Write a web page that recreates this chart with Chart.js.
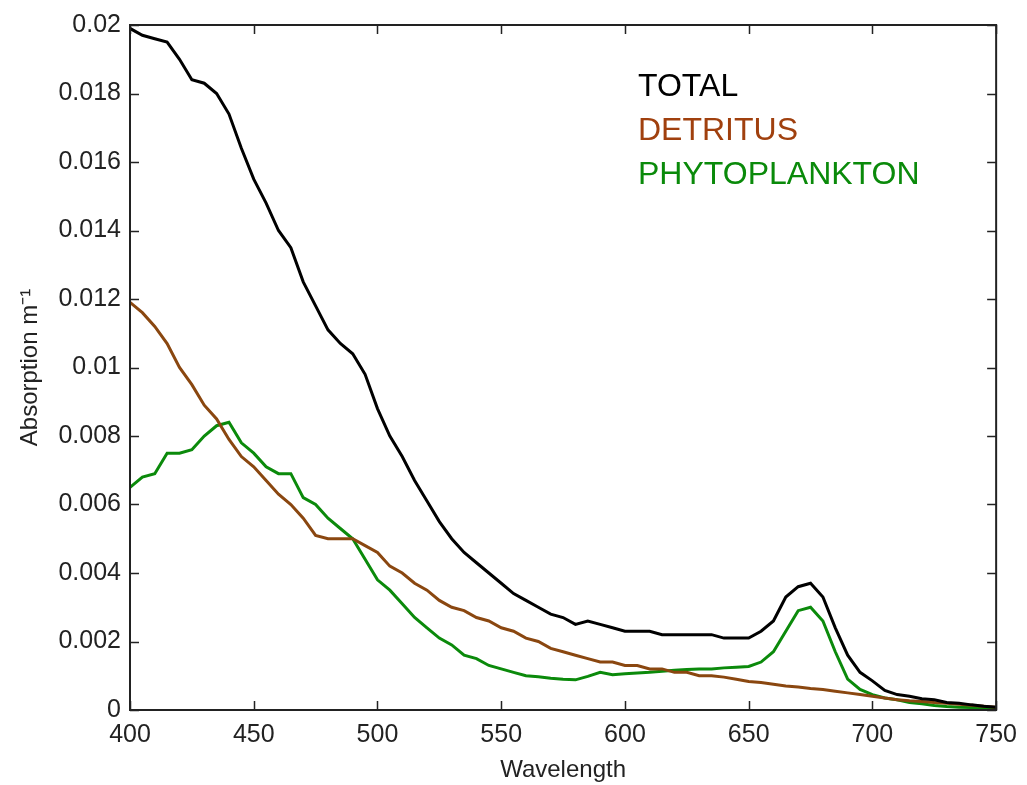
<!DOCTYPE html>
<html>
<head>
<meta charset="utf-8">
<script src="https://cdn.jsdelivr.net/npm/chart.js@4/dist/chart.umd.min.js"></script>
<style>
  body { margin: 0; background: #fff; }
</style>
</head>
<body>
<canvas id="absChart" width="1027" height="785"></canvas>
<script>
// wavelength grid (nm)
const wavelengths = [400,405,410,415,420,425,430,435,440,445,450,455,460,465,470,475,480,485,490,495,
  500,505,510,515,520,525,530,535,540,545,550,555,560,565,570,575,580,585,590,595,
  600,605,610,615,620,625,630,635,640,645,650,655,660,665,670,675,680,685,690,695,
  700,705,710,715,720,725,730,735,740,745,750];

const total = [0.0199,0.0197,0.0196,0.0195,0.0190,0.0184,0.0183,0.0180,0.0174,0.0164,0.0155,0.0148,0.0140,0.0135,0.0125,0.0118,0.0111,0.0107,0.0104,0.0098,
  0.0088,0.0080,0.0074,0.0067,0.0061,0.0055,0.0050,0.0046,0.0043,0.0040,0.0037,0.0034,0.0032,0.0030,0.0028,0.0027,0.0025,0.0026,0.0025,0.0024,
  0.0023,0.0023,0.0023,0.0022,0.0022,0.0022,0.0022,0.0022,0.0021,0.0021,0.0021,0.0023,0.0026,0.0033,0.0036,0.0037,0.0033,0.0024,0.0016,0.0011,
  0.00085,0.00057,0.00045,0.0004,0.00033,0.0003,0.00022,0.0002,0.00015,0.00011,0.00008];

const detritus = [0.0119,0.0116,0.0112,0.0107,0.0100,0.0095,0.0089,0.0085,0.0079,0.0074,0.0071,0.0067,0.0063,0.0060,0.0056,0.0051,0.0050,0.0050,0.0050,0.0048,
  0.0046,0.0042,0.0040,0.0037,0.0035,0.0032,0.0030,0.0029,0.0027,0.0026,0.0024,0.0023,0.0021,0.0020,0.0018,0.0017,0.0016,0.0015,0.0014,0.0014,
  0.0013,0.0013,0.0012,0.0012,0.0011,0.0011,0.0010,0.0010,0.00096,0.0009,0.00083,0.0008,0.00075,0.0007,0.00067,0.00063,0.0006,0.00055,0.0005,0.00045,
  0.0004,0.00035,0.0003,0.00027,0.00025,0.00022,0.0002,0.00017,0.00014,0.00011,0.00008];

const phyto = [0.0065,0.0068,0.0069,0.0075,0.0075,0.0076,0.0080,0.0083,0.0084,0.0078,0.0075,0.0071,0.0069,0.0069,0.0062,0.0060,0.0056,0.0053,0.0050,0.0044,
  0.0038,0.0035,0.0031,0.0027,0.0024,0.0021,0.0019,0.0016,0.0015,0.0013,0.0012,0.0011,0.0010,0.00097,0.00093,0.0009,0.00088,0.00098,0.0011,0.00103,
  0.00106,0.00108,0.0011,0.00113,0.00116,0.00118,0.0012,0.0012,0.00123,0.00125,0.00127,0.0014,0.0017,0.0023,0.0029,0.0030,0.0026,0.0017,0.0009,0.0006,
  0.00045,0.00035,0.0003,0.00022,0.00018,0.00013,0.0001,0.00008,0.00007,0.00006,0.00005];

const seriesNames = ['TOTAL', 'DETRITUS', 'PHYTOPLANKTON'];
const lineColors = ['#000000', '#8a4710', '#0b8a0b'];
const textColors = ['#000000', '#a0400e', '#0a8a0a'];

function pts(vals) {
  return vals.map(function (v, i) { return {x: wavelengths[i], y: v}; });
}

// box frame, inward ticks on all four sides, and the text legend
const frame = {
  id: 'frame',
  afterDraw(chart) {
    const c = chart.ctx;
    const a = chart.chartArea;
    const xs = chart.scales.x, ys = chart.scales.y;
    c.save();
    c.strokeStyle = '#222';
    c.lineWidth = 2;
    c.strokeRect(a.left, a.top, a.right - a.left, a.bottom - a.top);
    c.lineWidth = 1.5;
    c.beginPath();
    xs.ticks.forEach(function (t) {
      const px = Math.round(xs.getPixelForValue(t.value)) + 0.5;
      c.moveTo(px, a.bottom); c.lineTo(px, a.bottom - 9);
      c.moveTo(px, a.top); c.lineTo(px, a.top + 9);
    });
    ys.ticks.forEach(function (t) {
      const py = Math.round(ys.getPixelForValue(t.value)) + 0.5;
      c.moveTo(a.left, py); c.lineTo(a.left + 9, py);
      c.moveTo(a.right, py); c.lineTo(a.right - 9, py);
    });
    c.stroke();
    c.font = '32px "Liberation Sans", Arial, sans-serif';
    c.textBaseline = 'middle';
    seriesNames.forEach(function (n, i) {
      c.fillStyle = textColors[i];
      c.fillText(n, 638, 87 + i * 44);
    });
    c.restore();
  }
};

const ctx = document.getElementById('absChart').getContext('2d');
const absChart = new Chart(ctx, {
  type: 'line',
  data: {
    datasets: [
      {label: seriesNames[0], data: pts(total), borderColor: lineColors[0]},
      {label: seriesNames[1], data: pts(detritus), borderColor: lineColors[1]},
      {label: seriesNames[2], data: pts(phyto), borderColor: lineColors[2]}
    ]
  },
  options: {
    responsive: false,
    animation: false,
    elements: {
      line: {borderWidth: 3, tension: 0},
      point: {radius: 0}
    },
    layout: {padding: {top: 25, right: 22, left: 0, bottom: 0}},
    plugins: {legend: {display: false}, tooltip: {enabled: false}},
    scales: {
      x: {
        type: 'linear', min: 400, max: 750,
        afterFit(s) { s.height = 75; },
        grid: {display: false, drawTicks: false},
        border: {display: false},
        ticks: {stepSize: 50, padding: 10, color: '#222',
          font: {family: '"Liberation Sans", Arial, sans-serif', size: 25}},
        title: {display: true, text: 'Wavelength', color: '#222', padding: {top: 0, bottom: 0},
          font: {family: '"Liberation Sans", Arial, sans-serif', size: 24}}
      },
      y: {
        min: 0, max: 0.02,
        afterFit(s) { s.width = 130; },
        grid: {display: false, drawTicks: false},
        border: {display: false},
        ticks: {stepSize: 0.002, padding: 9, color: '#222',
          font: {family: '"Liberation Sans", Arial, sans-serif', size: 25},
          callback: function (v) { return String(+v.toFixed(3)); }},
        title: {display: true, text: 'Absorption m⁻¹', color: '#222', padding: {top: 16, bottom: 0},
          font: {family: '"Liberation Sans", Arial, sans-serif', size: 24}}
      }
    }
  },
  plugins: [frame]
});
</script>
</body>
</html>
